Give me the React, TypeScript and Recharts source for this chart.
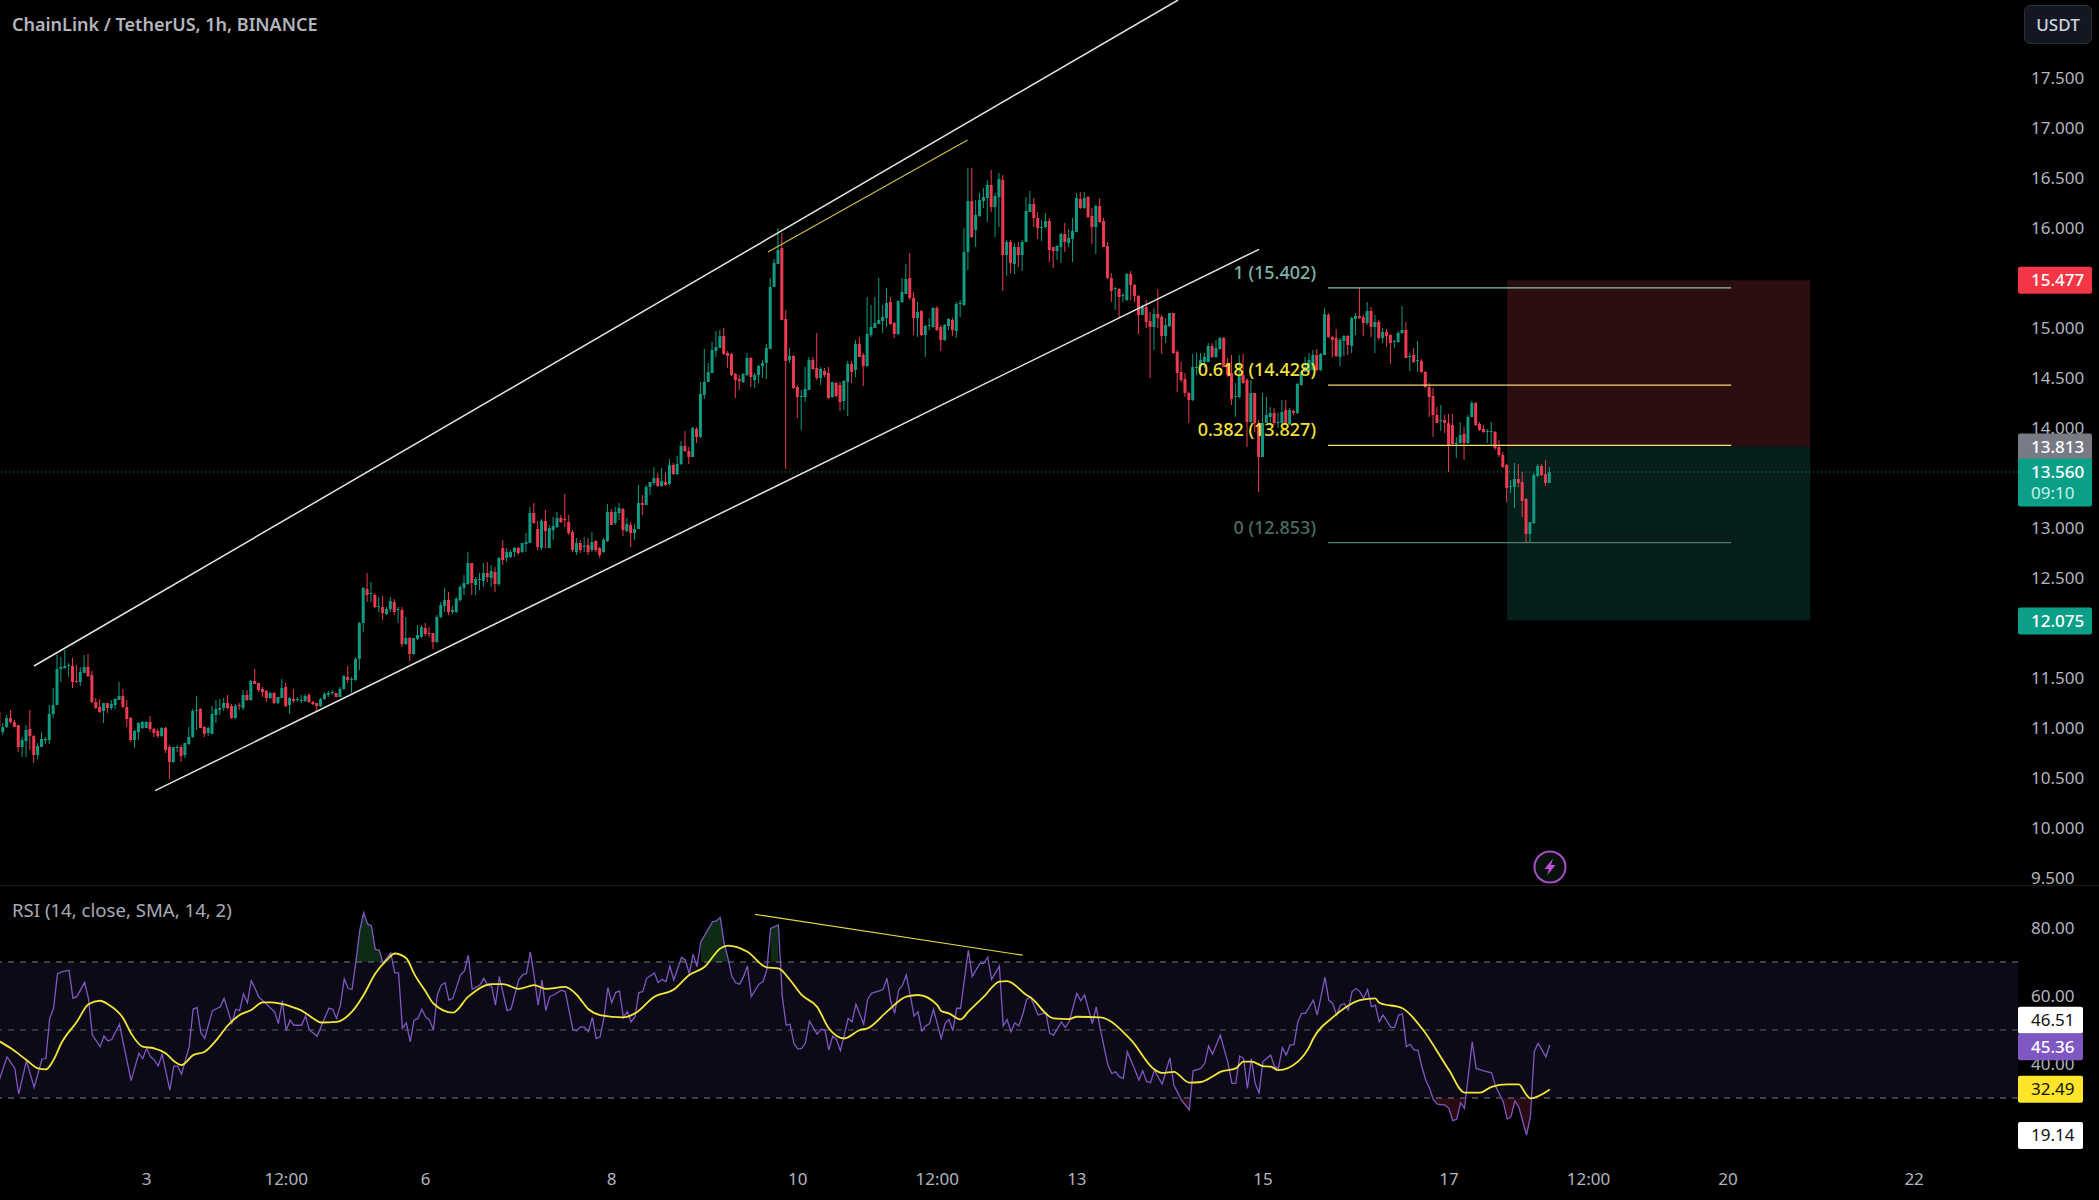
import React from 'react';
import { ComposedChart, Bar, Line, Area, XAxis, YAxis, ReferenceLine, ReferenceArea } from 'recharts';

// Hourly candles, rows are [open, high, low, close].
const candlesA = [
[11.16,11.18,11.0,11.01],[10.96,11.05,10.93,11.01],[11.01,11.13,11.0,11.1],[11.1,11.18,11.05,11.06],[11.06,11.08,11.01,11.01],[11.03,11.03,10.76,10.81],[10.81,10.91,10.71,10.88],[10.87,11.03,10.71,10.98],[10.99,11.18,10.78,10.92],[10.92,10.93,10.65,10.73],
[10.73,10.85,10.69,10.82],[10.81,10.96,10.81,10.89],[10.875,10.91,10.84,10.89],[10.88,11.23,10.84,11.14],[11.14,11.4,11.1,11.23],[11.23,11.73,11.23,11.59],[11.59,11.71,11.46,11.61],[11.6,11.78,11.59,11.62],[11.62,11.65,11.51,11.63],[11.62,11.7,11.4,11.46],
[11.47,11.63,11.45,11.46],[11.46,11.61,11.42,11.56],[11.55,11.73,11.55,11.61],[11.61,11.74,11.51,11.52],[11.53,11.57,11.25,11.26],[11.26,11.3,11.19,11.2],[11.21,11.29,11.15,11.16],[11.17,11.25,11.05,11.25],[11.25,11.25,11.15,11.2],[11.2,11.28,11.18,11.24],
[11.23,11.3,11.19,11.29],[11.28,11.46,11.28,11.32],[11.32,11.39,11.2,11.21],[11.21,11.28,11.01,11.09],[11.1,11.11,10.86,10.88],[10.88,10.98,10.8,10.97],[10.96,11.06,10.88,11.05],[11.0,11.07,10.99,11.06],[11.0,11.07,11.0,11.06],[11.06,11.12,10.96,10.99],
[10.99,11.0,10.91,10.95],[10.97,10.99,10.9,10.92],[10.92,11.01,10.91,11.0],[11.0,11.01,10.75,10.78],[10.81,10.83,10.49,10.66],[10.66,10.81,10.65,10.81],[10.81,10.83,10.76,10.81],[10.81,10.83,10.66,10.72],[10.73,10.85,10.7,10.85],[10.84,11.01,10.83,10.91],
[10.91,11.19,10.9,11.17],[11.17,11.32,10.98,11.18],[11.19,11.2,11.0,11.0],[11.01,11.02,10.91,10.94],[10.95,11.01,10.92,11.0],[10.94,11.22,10.94,11.14],[11.13,11.28,11.05,11.19],[11.18,11.29,11.13,11.2],[11.2,11.3,11.17,11.25],[11.25,11.33,11.19,11.2],
[11.22,11.24,11.09,11.1],[11.1,11.24,11.09,11.22],[11.23,11.25,11.18,11.22],[11.2,11.38,11.18,11.33],[11.33,11.38,11.27,11.28],[11.28,11.48,11.27,11.47],[11.47,11.59,11.44,11.44],[11.45,11.45,11.36,11.38],[11.39,11.41,11.31,11.36],[11.37,11.38,11.26,11.3],
[11.3,11.36,11.29,11.35],[11.35,11.36,11.24,11.25],[11.25,11.31,11.24,11.31],[11.3,11.49,11.3,11.4],[11.41,11.45,11.21,11.22],[11.23,11.31,11.14,11.3],[11.29,11.39,11.25,11.27],[11.28,11.31,11.26,11.29],[11.28,11.33,11.25,11.28],[11.27,11.34,11.26,11.32],
[11.33,11.35,11.25,11.26],[11.26,11.27,11.23,11.24],[11.25,11.25,11.17,11.22],[11.22,11.3,11.21,11.29],[11.29,11.36,11.28,11.34],[11.33,11.37,11.31,11.35],[11.35,11.38,11.33,11.36],[11.35,11.35,11.31,11.31],[11.31,11.41,11.31,11.39],[11.39,11.53,11.38,11.52],
[11.51,11.62,11.45,11.48],[11.48,11.51,11.35,11.49],[11.48,11.71,11.47,11.69],[11.69,12.06,11.58,12.05],[12.05,12.41,11.96,12.4],[12.39,12.55,12.26,12.33],[12.34,12.46,12.26,12.35],[12.33,12.35,12.2,12.21],[12.22,12.31,12.16,12.22],[12.21,12.32,12.08,12.15],
[12.14,12.21,12.13,12.19],[12.19,12.31,12.16,12.27],[12.26,12.29,12.13,12.16],[12.18,12.21,12.05,12.19],[12.18,12.21,11.81,11.84],[11.84,12.11,11.83,11.9],[11.9,11.91,11.67,11.74],[11.74,11.9,11.73,11.9],[11.89,12.03,11.88,11.93],[11.91,12.03,11.9,12.01],
[12.0,12.05,11.92,11.94],[11.95,12.01,11.91,11.94],[11.95,11.95,11.79,11.86],[11.86,12.13,11.85,12.11],[12.11,12.26,12.1,12.23],[12.22,12.4,12.16,12.28],[12.28,12.36,12.13,12.16],[12.16,12.22,12.14,12.18],[12.16,12.31,12.15,12.29],[12.28,12.43,12.26,12.41],
[12.4,12.53,12.33,12.45],[12.44,12.76,12.43,12.65],[12.65,12.65,12.33,12.45],[12.43,12.51,12.33,12.49],[12.48,12.55,12.38,12.49],[12.47,12.65,12.41,12.55],[12.55,12.66,12.46,12.51],[12.5,12.63,12.41,12.57],[12.56,12.61,12.36,12.44],[12.44,12.71,12.42,12.7],
];
const candlesB = [
[12.8,12.88,12.63,12.68],[12.7,12.8,12.66,12.76],[12.71,12.78,12.7,12.76],[12.76,12.81,12.71,12.8],[12.8,12.81,12.73,12.75],[12.76,12.85,12.75,12.85],[12.84,12.95,12.76,12.86],[12.85,13.21,12.85,13.15],[13.15,13.25,13.04,13.05],[12.99,13.07,12.78,12.81],
[12.8,13.09,12.78,13.07],[13.07,13.18,12.8,12.97],[12.8,13.03,12.8,13.0],[12.98,13.11,12.88,13.02],[13.01,13.16,13.0,13.1],[13.1,13.13,13.05,13.06],[13.09,13.34,13.01,13.08],[13.06,13.13,12.93,12.95],[12.96,12.98,12.76,12.78],[12.76,12.9,12.73,12.85],
[12.85,12.88,12.75,12.78],[12.81,12.91,12.76,12.82],[12.83,12.9,12.73,12.76],[12.78,12.96,12.76,12.86],[12.87,12.88,12.76,12.78],[12.8,12.81,12.7,12.73],[12.76,12.9,12.75,12.88],[12.87,13.24,12.86,13.16],[13.16,13.19,13.03,13.03],[13.05,13.21,13.03,13.16],
[13.15,13.25,13.08,13.2],[13.19,13.2,12.92,12.98],[12.97,13.1,12.96,13.04],[13.03,13.06,12.81,12.95],[12.95,13.04,12.88,12.99],[12.99,13.43,12.99,13.25],[13.25,13.33,13.13,13.23],[13.23,13.43,13.23,13.41],[13.41,13.46,13.33,13.46],[13.45,13.61,13.43,13.5],
[13.5,13.55,13.41,13.42],[13.42,13.6,13.41,13.47],[13.46,13.55,13.42,13.43],[13.44,13.69,13.43,13.63],[13.63,13.65,13.53,13.54],[13.54,13.72,13.53,13.64],[13.64,13.87,13.63,13.82],[13.82,13.97,13.76,13.77],[13.77,13.81,13.64,13.71],[13.71,14.01,13.71,14.0],
[13.99,14.01,13.85,13.91],[13.91,14.46,13.9,14.34],[14.33,14.79,14.29,14.46],[14.46,14.65,14.46,14.56],[14.55,14.86,14.55,14.78],[14.77,14.97,14.71,14.81],[14.8,14.98,14.8,14.92],[14.92,15.0,14.73,14.74],[14.75,14.77,14.6,14.72],[14.74,14.75,14.52,14.53],
[14.54,14.55,14.3,14.48],[14.49,14.53,14.38,14.47],[14.46,14.55,14.45,14.54],[14.53,14.75,14.52,14.7],[14.7,14.71,14.41,14.51],[14.48,14.55,14.4,14.53],[14.53,14.63,14.45,14.62],[14.62,14.68,14.5,14.65],[14.65,14.84,14.49,14.8],[14.79,15.5,14.79,15.41],
[15.41,15.69,15.41,15.65],[15.64,16.0,15.64,15.78],[15.8,15.95,15.08,15.08],[15.09,15.18,13.59,14.67],[14.68,14.8,14.65,14.72],[14.72,14.73,14.39,14.4],[14.41,14.43,14.1,14.31],[14.31,14.38,13.98,14.32],[14.31,14.61,14.26,14.39],[14.38,14.71,14.38,14.68],
[14.68,14.71,14.58,14.59],[14.6,14.95,14.48,14.5],[14.5,14.61,14.43,14.59],[14.57,14.6,14.51,14.53],[14.55,14.61,14.29,14.3],[14.31,14.46,14.3,14.46],[14.45,14.46,14.31,14.32],[14.43,14.46,14.17,14.26],[14.27,14.48,14.18,14.47],[14.46,14.67,14.12,14.64],
[14.64,14.67,14.45,14.56],[14.58,14.88,14.51,14.84],[14.84,14.91,14.71,14.71],[14.73,14.75,14.42,14.62],[14.62,15.31,14.61,14.94],[14.93,15.23,14.91,15.01],[15.0,15.31,15.0,15.05],[15.04,15.5,15.04,15.08],[15.07,15.23,14.95,15.11],[15.1,15.4,15.01,15.25],
[15.26,15.31,15.03,15.04],[15.05,15.06,14.9,14.94],[14.94,15.28,14.93,15.27],[15.26,15.5,15.25,15.36],[15.34,15.64,15.34,15.49],[15.5,15.75,15.28,15.3],[15.3,15.36,14.93,15.1],[15.1,15.26,14.91,15.16],[15.17,15.18,14.92,14.93],[14.93,15.03,14.71,15.02],
[15.02,15.1,14.98,15.03],[15.01,15.21,15.0,15.2],[15.2,15.22,14.97,14.98],[15.01,15.03,14.77,14.88],[14.88,15.04,14.87,15.03],[15.02,15.1,14.98,15.09],[15.08,15.1,14.92,14.98],[14.97,15.26,14.9,15.24],[15.24,15.28,15.11,15.25],
];
const candlesC = [
[15.23,16.0,15.22,15.76],[15.76,16.6,15.58,16.27],[16.27,16.6,15.9,15.91],[15.98,16.28,15.81,16.13],[16.12,16.35,16.11,16.28],[16.27,16.4,16.2,16.31],[16.3,16.48,16.06,16.43],[16.43,16.58,16.16,16.21],[16.21,16.35,15.91,16.32],[16.31,16.55,16.01,16.49],
[16.48,16.53,15.37,15.73],[15.73,15.88,15.52,15.86],[15.86,15.88,15.55,15.65],[15.64,15.85,15.54,15.81],[15.81,15.86,15.61,15.73],[15.73,15.88,15.57,15.86],[15.86,16.31,15.86,16.17],[16.16,16.37,16.16,16.24],[16.24,16.3,16.01,16.1],[16.1,16.16,15.89,16.0],
[16.0,16.08,15.87,16.01],[16.01,16.15,15.998,16.07],[16.07,16.1,15.66,15.78],[15.81,15.81,15.6,15.77],[15.77,15.83,15.68,15.82],[15.81,15.95,15.65,15.94],[15.94,16.05,15.76,15.86],[15.85,15.99,15.81,15.9],[15.89,16.1,15.66,15.97],[15.96,16.35,15.96,16.3],
[16.29,16.36,16.19,16.2],[16.2,16.36,16.19,16.3],[16.31,16.32,16.1,16.11],[16.12,16.2,15.84,16.01],[16.01,16.23,15.74,16.22],[16.22,16.3,16.05,16.06],[16.07,16.1,15.81,15.81],[15.82,15.86,15.49,15.5],[15.5,15.55,15.26,15.37],[15.39,15.41,15.18,15.4],
[15.39,15.4,15.1,15.31],[15.33,15.35,15.26,15.33],[15.28,15.55,15.27,15.54],[15.54,15.57,15.28,15.43],[15.43,15.44,15.26,15.32],[15.32,15.33,14.94,15.13],[15.13,15.23,15.13,15.21],[15.21,15.28,14.998,15.06],[15.07,15.16,14.5,15.01],[15.01,15.2,14.78,15.14],
[15.14,15.39,14.998,15.1],[15.11,15.13,14.74,14.92],[14.92,15.1,14.85,15.03],[15.02,15.15,15.01,15.15],
];
const candlesD = [
[15.15,15.15,14.74,14.75],[14.76,14.78,14.36,14.55],[14.56,14.66,14.46,14.48],[14.49,14.55,14.31,14.35],[14.35,14.36,14.05,14.28],[14.28,14.74,14.27,14.61],[14.6,14.75,14.53,14.61],[14.61,14.75,14.58,14.68],[14.66,14.75,14.6,14.71],[14.66,14.85,14.66,14.82],
[14.82,14.85,14.7,14.71],[14.71,14.88,14.7,14.8],[14.79,14.91,14.78,14.9],[14.9,14.91,14.61,14.61],[14.65,14.7,14.51,14.53],[14.55,14.73,14.23,14.29],[14.31,14.45,14.11,14.32],[14.31,14.73,14.3,14.53],[14.53,14.74,14.44,14.45],[14.48,14.5,13.81,14.06],
[14.06,14.48,14.05,14.35],[14.35,14.35,13.96,14.05],[14.05,14.08,13.36,13.71],[13.71,14.35,13.71,14.05],[14.05,14.31,14.05,14.13],[14.11,14.21,14.05,14.15],[14.15,14.2,14.03,14.05],[14.05,14.15,14.0,14.06],[14.05,14.28,14.03,14.16],[14.18,14.28,14.04,14.05],
[14.04,14.2,14.03,14.18],[14.17,14.18,14.13,14.15],[14.15,14.45,14.14,14.44],[14.43,14.58,14.42,14.56],[14.56,14.71,14.56,14.61],[14.57,14.75,14.56,14.68],[14.58,14.78,14.58,14.73],[14.73,14.79,14.57,14.58],[14.58,14.75,14.57,14.74],[14.73,15.2,14.73,15.14],
[15.13,15.15,14.9,14.91],[14.91,14.92,14.71,14.88],[14.9,14.99,14.71,14.72],[14.71,14.9,14.62,14.88],[14.87,14.93,14.72,14.92],[14.92,14.93,14.73,14.83],[14.82,15.11,14.75,15.1],[15.09,15.15,14.93,15.12],[15.12,15.4,15.09,15.1],[15.11,15.13,14.92,15.05],
[15.05,15.26,15.03,15.17],[15.17,15.21,14.91,15.01],[15.01,15.13,14.75,15.06],[15.06,15.08,14.88,14.9],[14.9,15.0,14.85,14.96],[14.96,14.99,14.81,14.92],[14.93,14.94,14.64,14.85],[14.86,14.88,14.8,14.87],[14.86,14.97,14.85,14.95],[14.95,15.22,14.94,14.98],
[14.98,15.06,14.7,14.7],[14.71,14.75,14.57,14.72],[14.73,14.8,14.65,14.66],[14.67,14.87,14.56,14.68],[14.67,14.69,14.55,14.56],[14.56,14.57,14.4,14.41],[14.41,14.45,14.11,14.31],[14.32,14.4,13.91,14.13],[14.13,14.21,14.05,14.05],[14.07,14.23,13.97,14.08],
[14.08,14.13,13.95,14.05],[14.05,14.14,13.56,13.83],[14.03,14.14,13.83,13.84],[13.84,13.91,13.7,13.85],[13.85,14.06,13.84,13.93],[13.94,14.01,13.68,13.85],[13.85,14.13,13.84,14.11],[14.11,14.27,14.11,14.25],[14.25,14.26,14.02,14.03],[14.04,14.06,13.97,13.98],
[13.99,14.03,13.95,13.96],[13.96,13.99,13.85,13.97],[13.96,14.06,13.82,13.97],[13.96,13.97,13.78,13.8],[13.81,13.88,13.71,13.73],[13.73,13.76,13.6,13.61],[13.63,13.64,13.26,13.4],[13.41,13.48,13.35,13.42],[13.41,13.65,13.2,13.49],[13.49,13.64,13.41,13.45],
[13.46,13.56,13.11,13.27],[13.29,13.3,12.85,12.94],[12.94,13.06,12.85,13.06],[13.05,13.55,13.04,13.53],[13.52,13.64,13.51,13.62],[13.62,13.64,13.52,13.53],[13.54,13.68,13.42,13.45],[13.45,13.61,13.45,13.56],
];

const rsiBars = [0,2,4,5,7,9,11,12,13,14,15,16,18,19,20,22,23,24,26,27,28,29,31,32,34,36,37,38,39,40,41,42,44,45,46,47,49,50,51,52,53,55,57,58,60,61,62,63,64,65,66,67,69,70,71,72,73,74,75,76,78,79,80,82,84,85,86,87,88,89,90,91,92,93,94,95,96,97,98,99,101,102,103,104,105,106,107,108,109,110,111,112,113,114,115,116,117,119,120,121,122,124,125,126,127,128,129,131,132,134,135,136,137,138,139,140,141,142,143,145,146,148,149,150,151,152,153,154,155,156,157,158,159,160,161,162,163,164,165,166,167,169,170,171,172,173,174,176,177,178,179,180,181,184,185,186,187,188,189,190,191,192,193,194,196,197,198,199,201,202,203,204,205,206,207,208,209,211,212,213,214,215,216,217,219,220,221,223,224,225,227,228,229,230,231,232,233,234,235,236,237,238,239,240,241,243,244,245,246,247,248,250,251,253,254,255,256,258,259,260,261,262,263,264,265,266,268,270,271,272,274,275,276,278,279,280,282,283,284,286,287,288,289,290,291,293,294,295,296,297,298,300,302,303,305,307,308,310,311,312,313,315,317,318,319,320,321,322,323,324,325,326,328,329,330,331,332,333,334,335,336,337,339,340,342,343,344,345,346,347,348,349,350,351,352,353,354,355,356,357,359,360,361,362,363,364,365,366,367,368,369,370,371,373,374,375,376,377,378,380,381,383,385,386,388,389,390,391,392,394,395,396,397,399,400];
const rsiValues = [35.3,42.1,38.7,31.2,40.9,33.1,41.4,41.6,53.4,56.4,66.5,67.1,67.6,59.3,59.8,64.0,59.3,48.5,45.1,48.3,46.8,47.2,51.7,46.1,35.1,43.1,41.6,44.6,42.1,41.2,39.4,42.9,32.3,39.4,39.4,37.0,45.1,56.1,56.6,49.2,47.5,55.7,56.8,59.3,51.9,56.1,55.7,60.6,58.0,64.5,62.2,59.6,57.6,56.4,55.4,51.9,58.6,49.8,52.9,51.4,51.4,54.1,50.0,48.2,53.7,56.4,56.1,53.4,57.3,65.0,62.2,61.9,70.1,79.4,84.5,81.2,80.6,73.7,73.5,69.8,72.7,66.8,66.8,50.5,52.1,46.5,52.9,53.4,56.1,53.9,52.9,50.0,60.3,63.2,63.9,58.8,59.3,66.2,67.4,72.0,61.9,63.2,65.2,63.2,62.9,57.3,65.7,55.7,56.1,64.7,66.2,66.6,73.0,65.7,57.3,64.7,55.7,59.8,60.3,61.7,61.3,50.0,49.8,51.0,50.8,49.5,53.7,47.5,48.0,53.7,62.5,58.0,61.0,61.5,53.7,55.4,52.4,53.9,61.0,61.3,65.2,66.8,63.9,64.9,64.2,68.8,64.7,71.4,70.6,66.5,72.3,68.6,76.0,81.8,82.1,83.1,75.5,71.1,65.7,63.9,63.5,65.7,68.8,59.8,63.5,64.2,67.6,79.9,80.9,59.8,51.4,51.7,46.1,44.4,44.6,46.3,52.6,48.8,50.2,50.0,44.1,48.2,47.2,43.9,53.4,52.4,57.6,51.7,59.0,60.8,61.5,61.9,65.2,58.3,54.9,61.7,63.2,66.2,60.3,54.1,55.4,49.7,51.2,51.9,56.1,47.5,51.9,53.1,49.8,56.4,56.4,73.5,65.7,69.6,69.6,71.4,64.9,68.8,51.2,53.1,49.5,52.1,51.2,54.4,58.8,59.8,54.4,55.1,49.0,48.5,52.4,50.8,52.4,60.8,58.6,60.3,51.9,56.8,50.5,39.7,37.2,37.7,36.2,35.8,43.6,38.2,35.3,38.0,34.8,34.5,38.2,34.1,41.8,33.8,29.4,26.5,38.0,38.7,40.2,45.3,42.9,48.5,40.2,34.3,34.3,42.3,41.6,32.8,41.6,34.3,31.5,40.7,42.6,39.2,38.7,44.8,42.6,45.6,45.6,52.4,54.9,54.9,58.8,54.4,65.5,58.8,57.8,54.4,57.3,57.8,55.9,61.3,62.2,61.3,59.3,61.9,56.8,57.3,52.4,54.4,50.8,50.8,54.4,54.7,45.1,45.8,44.1,44.1,39.2,35.3,32.8,29.4,28.2,27.9,26.9,23.3,23.8,28.6,26.9,46.5,38.7,38.0,37.4,33.5,28.9,23.8,24.5,29.1,27.4,19.1,24.5,43.6,46.1,42.1,45.6];
const maBars = [0,3,7,10,12,14,16,20,23,26,28,32,34,37,40,43,45,47,50,53,56,59,62,65,68,70,75,78,81,83,87,91,94,97,100,102,105,107,110,112,117,121,127,130,134,138,141,146,149,152,155,161,164,169,174,178,182,186,188,193,198,201,204,207,211,214,218,222,224,229,234,237,242,243,245,248,250,254,258,260,265,266,272,276,278,284,292,298,300,303,307,310,313,315,319,321,323,326,328,330,335,338,339,344,347,351,355,356,362,367,374,378,382,385,389,392,394,395,400];
const maValues = [46.7,44.6,41.2,38.7,38.4,41.2,46.1,52.4,57.6,58.6,57.6,53.4,49.0,45.1,44.6,43.1,40.9,39.7,42.6,43.6,47.0,51.4,54.4,55.9,58.1,58.1,57.0,55.7,53.4,52.2,52.4,55.4,60.3,66.6,70.6,72.5,71.1,66.6,61.3,57.8,55.1,59.8,63.5,63.5,62.1,63.2,62.1,62.7,60.3,56.1,54.4,53.7,54.9,59.8,61.9,66.2,68.6,74.0,74.8,73.0,68.4,68.1,64.7,60.3,56.8,50.5,47.5,50.0,50.5,55.4,59.8,60.3,57.3,55.6,54.9,53.1,55.4,59.8,64.2,64.4,60.3,59.6,53.4,53.2,53.9,53.7,47.0,38.4,37.4,37.7,34.5,34.7,36.3,37.7,38.7,40.7,40.7,39.4,39.2,38.2,40.7,45.1,47.5,53.7,56.4,58.8,59.3,58.0,56.4,50.5,38.2,31.6,31.6,33.3,34.0,34.0,30.9,29.9,32.5];

const priceTicks = [9.5,10,10.5,11,11.5,12.5,13,14,14.5,15,16,16.5,17,17.5];
const rsiTicks = [40,60,80];
const timeBars = [38,74,110,158,206,242,278,326,374,410,446,494];
const timeLabels = ['3','12:00','6','8','10','12:00','13','15','17','12:00','20','22'];

const channelUpper = [[8.95,11.62],[304.1,18.28]];
const channelLower = [[40.2,10.373],[325,15.787]];
const priceDivergence = [[198.3,15.76],[249.8,16.88]];
const rsiDivergence = [[195,84],[264,72]];
const fibBars = [342.8,446.8];
const fibLevels = [15.402,14.428,13.827,12.853];
const fibTexts = ['1 (15.402)','0.618 (14.428)','0.382 (13.827)','0 (12.853)'];
const fibLineColors = ['#86c7ad','#f5d76e','#f5e27a','#4f7f70'];
const fibTextColors = ['#7fb3a5','#f2e23c','#f2e23c','#4d6b60'];
const positionBars = [389,467.2];
const positionLevels = [15.477,13.813,12.075];

const priceBadges = [
  { text: '15.477', at: 15.477, fill: '#f23645', color: '#ffffff' },
  { text: '13.813', at: 13.81, fill: '#787b86', color: '#ffffff' },
  { text: '12.075', at: 12.07, fill: '#0c9f88', color: '#ffffff' },
];
const lastPrice = 13.56;
const rsiBadges = [
  { text: '46.51', at: 52.9, fill: '#ffffff', color: '#111111' },
  { text: '45.36', at: 45.1, fill: '#7e57c2', color: '#ffffff' },
  { text: '32.49', at: 32.6, fill: '#fde52a', color: '#111111' },
  { text: '19.14', at: 19.0, fill: '#ffffff', color: '#111111' },
];

const UP = '#109a82';
const DOWN = '#ee3a50';
const FONT = '"Noto Sans", sans-serif';
const AXIS = '#b2b5be';

const allCandles = [...candlesA, ...candlesB, ...candlesC, ...candlesD];
const candleData = allCandles.map((r, i) => ({ i, open: r[0], high: r[1], low: r[2], close: r[3], range: [r[2], r[1]] }));
const rsiData = rsiBars.map((i, k) => ({
  i,
  v: rsiValues[k],
  over: rsiValues[k] >= 69.8 ? [70, Math.max(70, rsiValues[k])] : null,
  under: rsiValues[k] <= 30 ? [rsiValues[k], 30] : null,
}));
const maData = maBars.map((i, k) => ({ i, v: maValues[k] }));

const xDomain = [0.18, 520.8];
const priceDomain = [9.43, 18.28];
const rsiDomain = [11.76, 92.65];
const noMargin = { top: 0, right: 0, bottom: 0, left: 0 };

const Candle = (props: any) => {
  const { x, y, width, height, payload } = props;
  const { open, high, low, close } = payload;
  const top = height < 0 ? y + height : y;
  const h = Math.abs(height);
  const unit = high > low ? h / (high - low) : 0;
  const yO = top + (high - open) * unit;
  const yC = top + (high - close) * unit;
  const color = close >= open ? UP : DOWN;
  const cx = x + width / 2;
  return (
    <g>
      <line x1={cx} x2={cx} y1={top} y2={top + h} stroke={color} strokeWidth={1} />
      <rect x={x} y={Math.min(yO, yC)} width={width} height={Math.max(Math.abs(yO - yC), 1)} fill={color} />
    </g>
  );
};

const badge = (text: string, fill: string, color: string, w: number) => (p: any) => {
  const vb = p.viewBox;
  const left = vb.x + vb.width;
  return (
    <g>
      <rect x={left} y={vb.y - 13.5} width={w} height={27} rx={2} fill={fill} />
      <text x={left + 13} y={vb.y + 6} fontFamily={FONT} fontSize={17} fontWeight={color === '#ffffff' ? 500 : 400} fill={color}>{text}</text>
    </g>
  );
};
const lastBadge = (p: any) => {
  const vb = p.viewBox;
  const left = vb.x + vb.width;
  return (
    <g>
      <rect x={left} y={vb.y - 13.5} width={74} height={48} rx={2} fill="#0c9f88" />
      <text x={left + 13} y={vb.y + 6} fontFamily={FONT} fontSize={17} fontWeight={500} fill="#ffffff">13.560</text>
      <text x={left + 13} y={vb.y + 27} fontFamily={FONT} fontSize={17} fill="#c4f2e6">09:10</text>
    </g>
  );
};
const fibLabel = (text: string, color: string) => (p: any) => (
  <text x={p.viewBox.x - 12} y={p.viewBox.y - 9} textAnchor="end" fontFamily={FONT} fontSize={18} fontWeight={500} fill={color}>{text}</text>
);
const seg = (s: number[][]) => [{ x: s[0][0], y: s[0][1] }, { x: s[1][0], y: s[1][1] }];

export default function App() {
  return (
    <div style={{ position: 'fixed', left: 0, top: 0, width: 2099, height: 1200, background: '#000', overflow: 'hidden' }}>
      <div style={{ position: 'absolute', left: 0, top: 0 }}>
        <ComposedChart width={2099} height={885} data={candleData} margin={noMargin}>
          <XAxis dataKey="i" type="number" domain={xDomain} allowDataOverflow hide />
          <YAxis
            orientation="right"
            width={81}
            type="number"
            domain={priceDomain}
            allowDataOverflow
            ticks={priceTicks}
            interval={0}
            tickFormatter={(v: number) => v.toFixed(3)}
            tick={{ fill: AXIS, fontSize: 17, fontFamily: FONT }}
            tickLine={false}
            axisLine={false}
            tickSize={0}
            tickMargin={13}
          />
          <ReferenceArea x1={positionBars[0]} x2={positionBars[1]} y1={positionLevels[0]} y2={positionLevels[1]} fill="#2d0e10" fillOpacity={1} stroke="none" />
          <ReferenceArea x1={positionBars[0]} x2={positionBars[1]} y1={positionLevels[1]} y2={positionLevels[2]} fill="#061f1a" fillOpacity={1} stroke="none" />
          <ReferenceLine y={lastPrice} stroke="#159a84" strokeDasharray="1 3" strokeWidth={1} />
          <Bar dataKey="range" barSize={3} shape={Candle} isAnimationActive={false} />
          <ReferenceLine segment={seg(channelUpper)} stroke="#e4e4e4" strokeWidth={1.5} />
          <ReferenceLine segment={seg(channelLower)} stroke="#e4e4e4" strokeWidth={1.5} />
          <ReferenceLine segment={seg(priceDivergence)} stroke="#cdbb4e" strokeWidth={1.2} />
          {fibLevels.map((lv, k) => (
            <ReferenceLine
              key={lv}
              segment={[{ x: fibBars[0], y: lv }, { x: fibBars[1], y: lv }]}
              stroke={fibLineColors[k]}
              strokeWidth={1.3}
              label={fibLabel(fibTexts[k], fibTextColors[k])}
            />
          ))}
        </ComposedChart>
      </div>
      <div style={{ position: 'absolute', left: 0, top: 0 }}>
        <ComposedChart width={2099} height={885} margin={noMargin}>
          <XAxis dataKey="i" type="number" domain={xDomain} allowDataOverflow hide />
          <YAxis orientation="right" width={81} type="number" domain={priceDomain} allowDataOverflow tick={false} tickLine={false} axisLine={false} />
          {priceBadges.map((b) => (
            <ReferenceLine key={b.text} y={b.at} stroke="none" label={badge(b.text, b.fill, b.color, 74)} />
          ))}
          <ReferenceLine y={lastPrice} stroke="none" label={lastBadge} />
        </ComposedChart>
      </div>
      <div style={{ position: 'absolute', left: 0, top: 885 }}>
        <ComposedChart width={2099} height={315} margin={noMargin}>
          <XAxis
            dataKey="i"
            type="number"
            domain={xDomain}
            allowDataOverflow
            height={40}
            ticks={timeBars}
            interval={0}
            tickFormatter={(v: number) => timeLabels[timeBars.indexOf(v)]}
            tick={{ fill: AXIS, fontSize: 17, fontFamily: FONT }}
            tickLine={false}
            axisLine={false}
            tickSize={0}
            tickMargin={13}
          />
          <YAxis
            orientation="right"
            width={81}
            type="number"
            domain={rsiDomain}
            allowDataOverflow
            ticks={rsiTicks}
            interval={0}
            tickFormatter={(v: number) => v.toFixed(2)}
            tick={{ fill: AXIS, fontSize: 17, fontFamily: FONT }}
            tickLine={false}
            axisLine={false}
            tickSize={0}
            tickMargin={13}
          />
          <ReferenceArea y1={30} y2={70} fill="#0d0a18" fillOpacity={1} stroke="none" />
          <ReferenceLine y={70} stroke="#787b86" strokeDasharray="6 6" />
          <ReferenceLine y={50} stroke="#5f6068" strokeDasharray="6 6" />
          <ReferenceLine y={30} stroke="#787b86" strokeDasharray="6 6" />
          <Area data={rsiData} dataKey="over" stroke="none" fill="#0e2c15" fillOpacity={1} isAnimationActive={false} dot={false} activeDot={false} />
          <Area data={rsiData} dataKey="under" stroke="none" fill="#2a0b13" fillOpacity={1} isAnimationActive={false} dot={false} activeDot={false} />
          <Line data={rsiData} dataKey="v" stroke="#7e57c2" strokeWidth={1.3} dot={false} activeDot={false} isAnimationActive={false} />
          <Line data={maData} dataKey="v" type="monotone" stroke="#f3e63a" strokeWidth={1.8} dot={false} activeDot={false} isAnimationActive={false} />
          <ReferenceLine segment={seg(rsiDivergence)} stroke="#e6d84a" strokeWidth={1.2} />
        </ComposedChart>
      </div>
      <div style={{ position: 'absolute', left: 0, top: 885 }}>
        <ComposedChart width={2099} height={315} margin={noMargin}>
          <XAxis dataKey="i" type="number" domain={xDomain} allowDataOverflow height={40} tick={false} tickLine={false} axisLine={false} />
          <YAxis orientation="right" width={81} type="number" domain={rsiDomain} allowDataOverflow tick={false} tickLine={false} axisLine={false} />
          {rsiBadges.map((b) => (
            <ReferenceLine key={b.text} y={b.at} stroke="none" label={badge(b.text, b.fill, b.color, 65)} />
          ))}
        </ComposedChart>
      </div>
      <div style={{ position: 'absolute', left: 0, top: 884.5, width: 2099, height: 1, background: '#1d1d1f' }} />
      <div style={{ position: 'absolute', left: 12, top: 11, fontFamily: FONT, fontSize: 18, fontWeight: 600, color: '#b2b5be', lineHeight: '26px', whiteSpace: 'nowrap' }}>
        ChainLink / TetherUS, 1h, BINANCE
      </div>
      <div style={{ position: 'absolute', left: 12, top: 897, fontFamily: FONT, fontSize: 18.6, color: '#a8abb4', lineHeight: '26px', whiteSpace: 'nowrap' }}>
        RSI (14, close, SMA, 14, 2)
      </div>
      <div style={{ position: 'absolute', left: 2024, top: 5, width: 68, height: 39, boxSizing: 'border-box', background: '#131722', border: '1px solid #2a2e39', borderRadius: 6, color: '#d1d4dc', fontFamily: FONT, fontSize: 17, fontWeight: 500, textAlign: 'center', lineHeight: '37px' }}>
        USDT
      </div>
      <svg style={{ position: 'absolute', left: 1533, top: 849.5 }} width={34} height={34} viewBox="0 0 34 34">
        <circle cx={17} cy={17} r={15.5} fill="#07100c" stroke="#a84fc8" strokeWidth={2} />
        <path d="M20 8.5 L11.5 19 H16 L14 25.5 L22.5 15 H18 Z" fill="#c050d8" />
      </svg>
    </div>
  );
}
